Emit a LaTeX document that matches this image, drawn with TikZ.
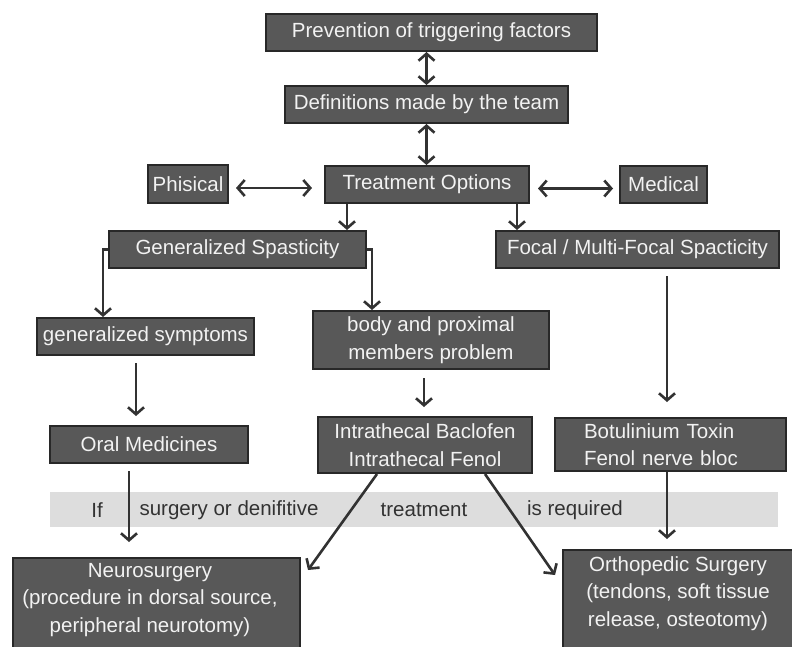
\documentclass[tikz,border=0pt]{standalone}
\usepackage{fontspec}
\setmainfont{Liberation Sans}
\usetikzlibrary{arrows.meta}
\definecolor{boxfill}{RGB}{88,88,88}
\definecolor{boxline}{RGB}{40,40,40}
\definecolor{boxtext}{RGB}{242,242,242}
\definecolor{arrowc}{RGB}{50,50,50}
\definecolor{bandc}{RGB}{221,221,221}
\definecolor{bandtext}{RGB}{50,50,50}
\begin{document}
\begin{tikzpicture}[x=1pt,y=-1pt,
  box/.style={draw=boxline, line width=2pt, fill=boxfill, text=boxtext,
    font=\fontsize{20.5}{27.5}\selectfont, inner sep=0pt, align=center, minimum height=37},
  boxlbl/.style={text=boxtext, font=\fontsize{20.5}{27.5}\selectfont, inner sep=0pt, align=center},
  bandlbl/.style={text=bandtext, font=\fontsize{20.5}{27.5}\selectfont, inner sep=0pt},
  arr/.style={draw=arrowc, line width=2.6pt, -{Straight Barb[length=7pt,width=16pt]}},
  dbl/.style={draw=arrowc, line width=2.6pt, {Straight Barb[length=7pt,width=16pt]}-{Straight Barb[length=7pt,width=16pt]}}]
\useasboundingbox (0,0) rectangle (792,646);
\clip (0,0) rectangle (792,646);
% band
\node[fill=bandc, minimum width=728, minimum height=35, inner sep=0pt] (band) at (414,509.5) {};
\node[bandlbl] (if) at (97,510) {If};
\node[bandlbl] (surg) at (229,510) {surgery or denifitive};
\node[bandlbl] (treatw) at (424,510) {treatment};
\node[bandlbl] (isreq) at (575,510) {is required};
% boxes
\node[box, minimum width=331] (prev) at (431.5,32.5) {Prevention of triggering factors};
\node[box, minimum width=283] (defs) at (426.5,104.5) {Definitions made by the team};
\node[box, minimum width=204] (treat) at (427,184.5) {Treatment Options};
\node[box, minimum width=80, minimum height=38] (phis) at (188,184) {Phisical};
\node[box, minimum width=87] (med) at (663.5,184.5) {Medical};
\node[box, minimum width=257] (gen) at (237.5,249.5) {Generalized Spasticity};
\node[box, minimum width=283] (focal) at (637.5,249.5) {Focal / Multi-Focal Spacticity};
\node[box, minimum width=217] (gsym) at (145.5,336.5) {generalized symptoms};
\node[box, minimum width=236, minimum height=58] (body) at (431,340) {body and proximal\\members problem};
\node[box, minimum width=198] (oral) at (149,444.5) {Oral Medicines};
\node[box, minimum width=214, minimum height=56] (intra) at (425,445) {Intrathecal Baclofen\\Intrathecal Fenol};
\node[box, minimum height=53, align=left, text width=173pt, inner xsep=29pt] (botu) at (670.5,444.5) {Botulinium Toxin\\Fenol nerve bloc};
\node[box, minimum width=287, minimum height=92, anchor=north] (neuro) at (156.5,557) {};
\node[boxlbl] (neurot) at (150,600) {Neurosurgery\\(procedure in dorsal source,\\peripheral neurotomy)};
\node[box, minimum width=240, minimum height=100, anchor=north west] (ortho) at (562,549) {};
\node[boxlbl] (orthot) at (678,593.5) {Orthopedic Surgery\\(tendons, soft tissue\\release, osteotomy)};
% connectors
\draw[dbl] (prev.south -| defs.north) -- (defs.north);
\draw[dbl] (defs.south) -- (treat.north -| defs.south);
\draw[dbl, shorten <=7pt, shorten >=12pt] ([yshift=-4pt]phis.east) -- ([yshift=-4pt]phis.east -| treat.west);
\draw[dbl, shorten <=8pt, shorten >=6pt] ([yshift=-4pt]treat.east) -- ([yshift=-4pt]treat.east -| med.west);
\draw[arr] ([xshift=-80pt]treat.south) -- ([xshift=-80pt]treat.south |- gen.north);
\draw[arr] ([xshift=90pt]treat.south) -- ([xshift=90pt]treat.south |- focal.north);
\draw[arr] (gen.west) -| ([xshift=-42.5pt]gsym.north);
\draw[arr] (gen.east) -| ([xshift=-59pt]body.north);
\draw[arr, shorten <=7pt, shorten >=15pt] ([xshift=29.5pt]focal.south) -- ([xshift=29.5pt]focal.south |- botu.north);
\draw[arr, shorten <=7pt, shorten >=9pt] ([xshift=-9.5pt]gsym.south) -- ([xshift=-9.5pt]gsym.south |- oral.north);
\draw[arr, shorten <=8pt, shorten >=9pt] ([xshift=-7pt]body.south) -- ([xshift=-7pt]body.south |- intra.north);
\draw[arr, shorten <=7pt, shorten >=15pt] ([xshift=-20pt]oral.south) -- ([xshift=-20pt]oral.south |- neuro.north);
\coordinate (nend) at ([xshift=7pt,yshift=-13pt]neuro.north east);
\coordinate (oend) at ([xshift=-7pt,yshift=-26pt]ortho.north west);
\draw[arr] ([xshift=-48pt]intra.south) -- (nend);
\draw[arr] ([xshift=60pt]intra.south) -- (oend);
\draw[arr, shorten >=10pt] ([xshift=-3.5pt]botu.south) -- ([xshift=-3.5pt]botu.south |- ortho.north);
\end{tikzpicture}
\end{document}
